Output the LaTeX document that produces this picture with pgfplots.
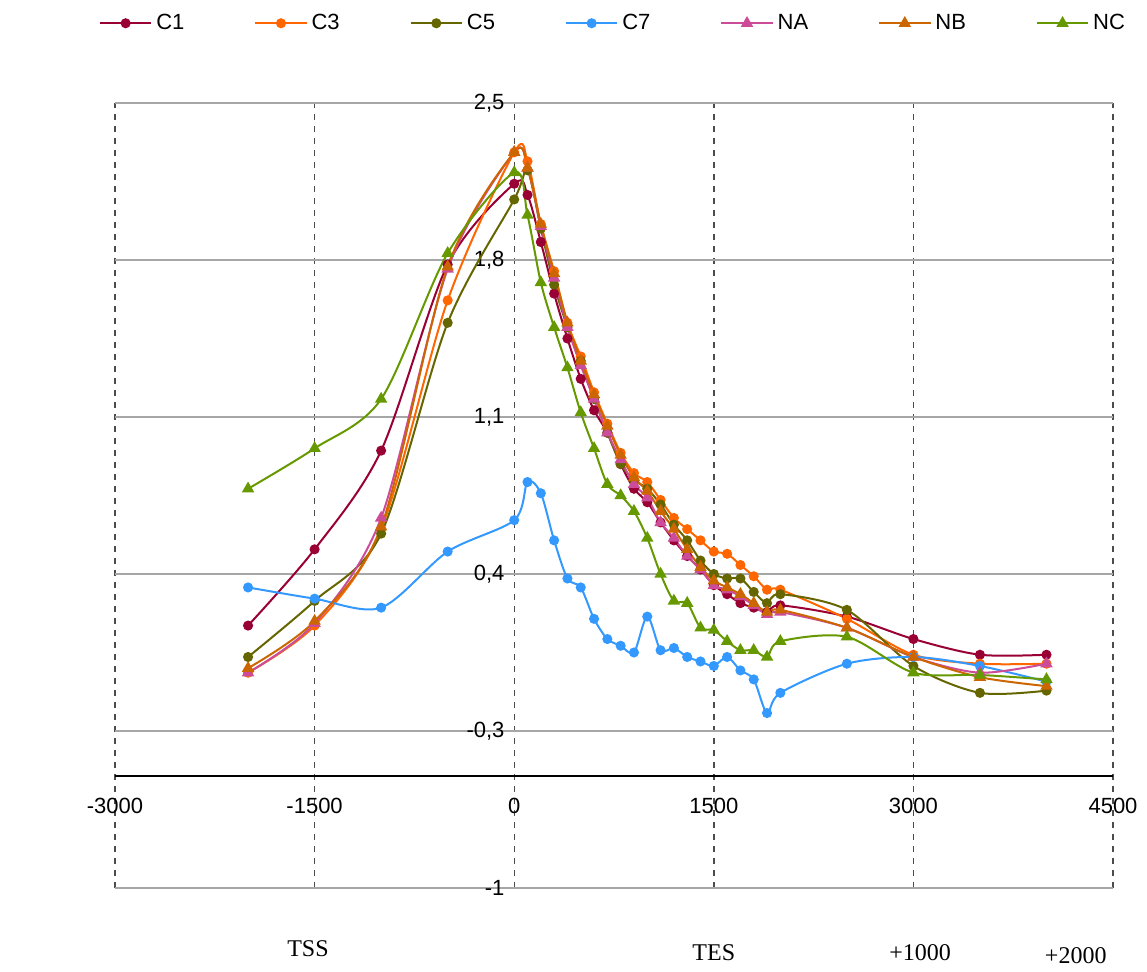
\documentclass[border=0pt]{standalone}
\usepackage{pgfplots}
\pgfplotsset{compat=1.18}
\usepackage{fontspec}
\setmainfont{Liberation Sans}
\newfontfamily\serif{Liberation Serif}
\definecolor{cA}{HTML}{990033}
\definecolor{cB}{HTML}{FF6600}
\definecolor{cC}{HTML}{666600}
\definecolor{cD}{HTML}{3399FF}
\definecolor{cE}{HTML}{CC4C99}
\definecolor{cF}{HTML}{CC6600}
\definecolor{cG}{HTML}{669900}
\begin{document}
\fontsize{11}{13}\selectfont
\begin{tikzpicture}
\begin{axis}[
 scale only axis, width=499pt, height=392.5pt,
 xmin=-3000, xmax=4500, ymin=-1, ymax=2.5,
 axis x line=bottom, axis y line=center,
 hide obscured x ticks=false, hide obscured y ticks=false,
 y axis line style={draw=none},
 x axis line style={draw=none},
 xtick={-3000,-1500,0,1500,3000,4500},
 ytick={-1,-0.3,0.4,1.1,1.8,2.5},
 major tick length=0pt,
 xmajorgrids, ymajorgrids,
 x grid style={gray!60!black, dashed, line width=0.7pt},
 y grid style={gray!70, line width=0.6pt},
 /pgf/number format/assume math mode=true,
 /pgf/number format/use comma,
 /pgf/number format/1000 sep={},
 xticklabel style={font=\fontsize{11}{13}\selectfont, anchor=center, yshift=41pt},
 yticklabel style={font=\fontsize{11}{13}\selectfont, xshift=-1pt},
 clip=false,
 every axis plot/.append style={smooth, line width=1pt, mark size=2pt},
 legend columns=7,
 legend image code/.code={\draw[mark repeat=2,mark phase=2] plot coordinates {(0cm,0cm) (0.45cm,0cm) (0.9cm,0cm)};},
 legend style={draw=none, at={(0.5,1)}, anchor=south, yshift=31pt, font=\fontsize{11}{13}\selectfont,
   /tikz/every even column/.append style={column sep=33pt}},
 legend cell align=left,
]
\draw[black, line width=0.9pt] (axis cs:-3000,-0.5) -- (axis cs:4500,-0.5);
\addplot[cA, mark=*] coordinates {(-2000,0.17)(-1500,0.51)(-1000,0.95)(-500,1.78)(0,2.14)(100,2.09)(200,1.88)(300,1.65)(400,1.45)(500,1.27)(600,1.13)(700,1.03)(800,0.89)(900,0.78)(1000,0.72)(1100,0.63)(1200,0.55)(1300,0.48)(1400,0.42)(1500,0.35)(1600,0.31)(1700,0.27)(1800,0.25)(1900,0.23)(2000,0.26)(2500,0.21)(3000,0.11)(3500,0.04)(4000,0.04)};
\addlegendentry{C1}
\addplot[cB, mark=*] coordinates {(-2000,-0.04)(-1500,0.17)(-1000,0.60)(-500,1.62)(0,2.28)(100,2.24)(200,1.96)(300,1.75)(400,1.52)(500,1.37)(600,1.21)(700,1.07)(800,0.94)(900,0.85)(1000,0.81)(1100,0.73)(1200,0.65)(1300,0.60)(1400,0.55)(1500,0.50)(1600,0.49)(1700,0.44)(1800,0.39)(1900,0.33)(2000,0.33)(2500,0.20)(3000,0.04)(3500,0.0)(4000,0.0)};
\addlegendentry{C3}
\addplot[cC, mark=*] coordinates {(-2000,0.03)(-1500,0.28)(-1000,0.58)(-500,1.52)(0,2.07)(100,2.20)(200,1.94)(300,1.69)(400,1.50)(500,1.35)(600,1.18)(700,1.03)(800,0.89)(900,0.82)(1000,0.78)(1100,0.71)(1200,0.62)(1300,0.55)(1400,0.46)(1500,0.40)(1600,0.38)(1700,0.38)(1800,0.32)(1900,0.27)(2000,0.31)(2500,0.24)(3000,-0.01)(3500,-0.13)(4000,-0.12)};
\addlegendentry{C5}
\addplot[cD, mark=*] coordinates {(-2000,0.34)(-1500,0.29)(-1000,0.25)(-500,0.50)(0,0.64)(100,0.81)(200,0.76)(300,0.55)(400,0.38)(500,0.34)(600,0.20)(700,0.11)(800,0.08)(900,0.05)(1000,0.21)(1100,0.06)(1200,0.07)(1300,0.03)(1400,0.01)(1500,-0.01)(1600,0.03)(1700,-0.03)(1800,-0.07)(1900,-0.22)(2000,-0.13)(2500,0.0)(3000,0.03)(3500,-0.01)(4000,-0.08)};
\addlegendentry{C7}
\addplot[cE, mark=triangle*, mark size=2.6pt] coordinates {(-2000,-0.04)(-1500,0.18)(-1000,0.65)(-500,1.76)(0,2.28)(100,2.21)(200,1.95)(300,1.72)(400,1.50)(500,1.33)(600,1.18)(700,1.03)(800,0.91)(900,0.80)(1000,0.74)(1100,0.63)(1200,0.56)(1300,0.48)(1400,0.42)(1500,0.35)(1600,0.33)(1700,0.30)(1800,0.26)(1900,0.22)(2000,0.23)(2500,0.16)(3000,0.03)(3500,-0.04)(4000,0.0)};
\addlegendentry{NA}
\addplot[cF, mark=triangle*, mark size=2.6pt] coordinates {(-2000,-0.02)(-1500,0.19)(-1000,0.61)(-500,1.77)(0,2.28)(100,2.21)(200,1.96)(300,1.74)(400,1.52)(500,1.35)(600,1.20)(700,1.06)(800,0.93)(900,0.83)(1000,0.77)(1100,0.68)(1200,0.60)(1300,0.51)(1400,0.43)(1500,0.37)(1600,0.34)(1700,0.31)(1800,0.27)(1900,0.23)(2000,0.24)(2500,0.16)(3000,0.03)(3500,-0.06)(4000,-0.10)};
\addlegendentry{NB}
\addplot[cG, mark=triangle*, mark size=2.6pt] coordinates {(-2000,0.78)(-1500,0.96)(-1000,1.18)(-500,1.83)(0,2.19)(100,2.00)(200,1.70)(300,1.50)(400,1.32)(500,1.12)(600,0.96)(700,0.80)(800,0.75)(900,0.68)(1000,0.56)(1100,0.40)(1200,0.28)(1300,0.27)(1400,0.16)(1500,0.15)(1600,0.10)(1700,0.06)(1800,0.06)(1900,0.03)(2000,0.10)(2500,0.12)(3000,-0.04)(3500,-0.05)(4000,-0.07)};
\addlegendentry{NC}
\node[font=\serif\fontsize{12}{14}\selectfont] at (axis cs:-1550,-1.27) {TSS};
\node[font=\serif\fontsize{12}{14}\selectfont] at (axis cs:1500,-1.29) {TES};
\node[font=\serif\fontsize{12}{14}\selectfont] at (axis cs:3050,-1.29) {+1000};
\node[font=\serif\fontsize{12}{14}\selectfont] at (axis cs:4220,-1.3) {+2000};
\path (rel axis cs:0,0) ++(-57.5pt,-41.5pt) coordinate (bl);
\path (rel axis cs:1,1) ++(17pt,51.5pt) coordinate (tr);
\path (bl) (tr);
\end{axis}
\end{tikzpicture}
\end{document}
